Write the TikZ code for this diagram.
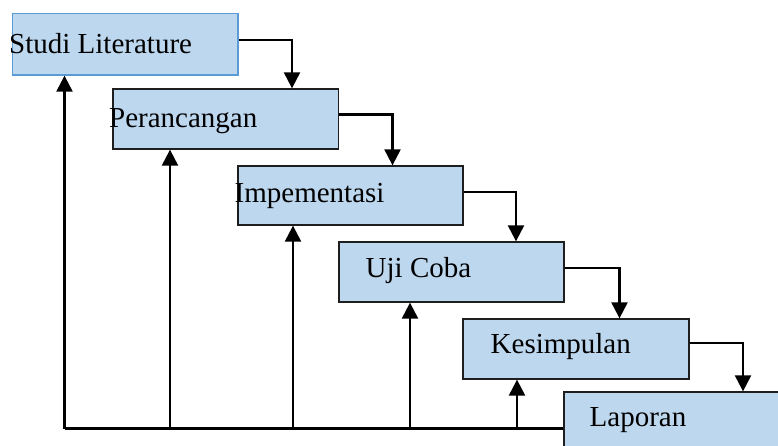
\documentclass[tikz,border=0pt]{standalone}
\usepackage{fontspec}
\setmainfont{Liberation Serif}
\usetikzlibrary{arrows.meta}
\definecolor{boxfill}{RGB}{189,215,238}
\definecolor{boxblue}{RGB}{91,155,213}
\definecolor{boxdark}{RGB}{30,30,30}
\tikzset{
  stagebox/.style={draw=boxdark, line width=1.3pt, fill=boxfill, rectangle, inner sep=0pt},
  stagetext/.style={anchor=base west, inner sep=0pt, font=\fontsize{29}{34}\selectfont},
  flow/.style={line width=2.2pt, -{Triangle[width=16pt,length=16pt]}},
  flat/.style={line width=2.2pt}
}
\begin{document}
\begin{tikzpicture}[x=1pt,y=-1pt]
\useasboundingbox (0,0) rectangle (778,446);
\clip (0,0) rectangle (778,446);
% boxes
\node[stagebox, draw=boxblue, minimum width=225.3pt, minimum height=61.3pt] (b1) at (125.35,44.35) {};
\node[stagebox, minimum width=225.3pt, minimum height=60pt] (b2) at (225.65,119) {};
\node[stagebox, minimum width=225pt, minimum height=59pt] (b3) at (350.5,195.5) {};
\node[stagebox, minimum width=225pt, minimum height=60pt] (b4) at (451.5,272) {};
\node[stagebox, minimum width=226pt, minimum height=60pt] (b5) at (576,349) {};
\node[stagebox, minimum width=240pt, minimum height=80pt] (b6) at (684,432) {};
% texts
\node[stagetext] (l1) at (9,54) {Studi Literature};
\node[stagetext] (l2) at (109,128) {Perancangan};
\node[stagetext] (l3) at (234.5,202.7) {Impementasi};
\node[stagetext] (l4) at (365.5,277.7) {Uji Coba};
\node[stagetext] (l5) at (490.5,353.3) {Kesimpulan};
\node[stagetext] (l6) at (589.5,426.7) {Laporan};
% forward flow
\draw[flow] (b1.east |- 0,40) -| (292,0 |- b2.north);
\draw[flow] (b2.east |- 0,114.5) -| (392.5,0 |- b3.north);
\draw[flow] (b3.east |- 0,192) -| (516,0 |- b4.north);
\draw[flow] (b4.east |- 0,268) -| (619.5,0 |- b5.north);
\draw[flow] (b5.east |- 0,343) -| (743,0 |- b6.north);
% feedback
\coordinate (base) at (64.5,428.5);
\draw[flat] (base) -- (b6.west |- base);
\draw[flow] (base) -- (base |- b1.south);
\draw[flow] (170,428.5) -- (170,0 |- b2.south);
\draw[flow] (293,428.5) -- (293,0 |- b3.south);
\draw[flow] (410,428.5) -- (410,0 |- b4.south);
\draw[flow] (517,428.5) -- (517,0 |- b5.south);
\end{tikzpicture}
\end{document}
